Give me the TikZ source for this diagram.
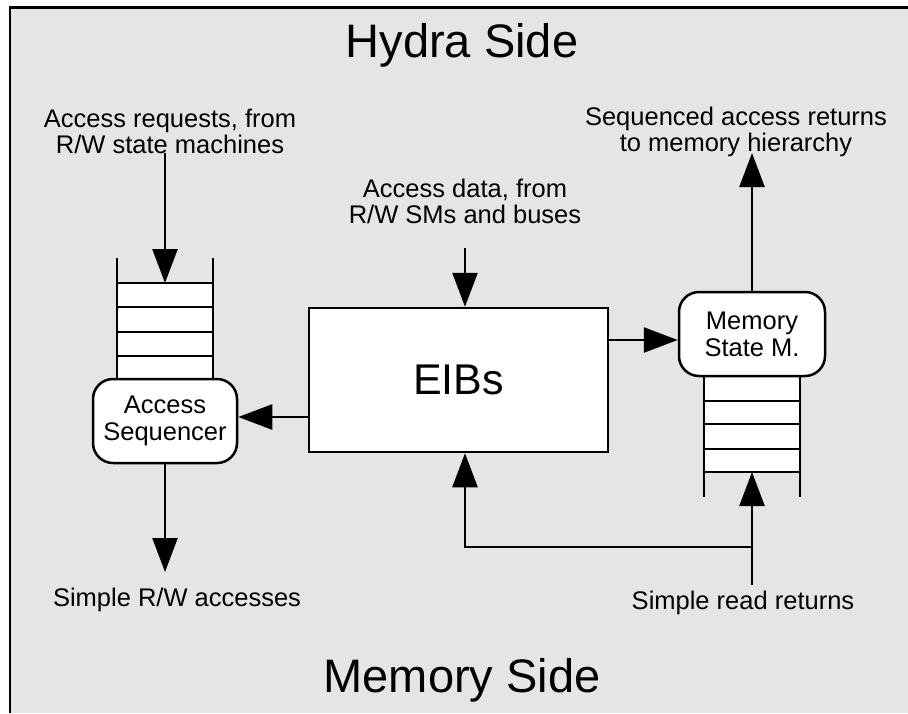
\documentclass[tikz,border=0pt]{standalone}
\usepackage{fontspec}
\setmainfont{Liberation Sans}
\usetikzlibrary{arrows.meta}
\definecolor{bg}{RGB}{229,229,229}
\begin{document}
\begin{tikzpicture}[x=1pt,y=-1pt,
  lbl/.style={align=center,font=\fontsize{25.5}{26}\selectfont,inner sep=0pt},
  big/.style={font=\fontsize{47}{50}\selectfont,inner sep=0pt},
  arr/.style={line width=2.5pt,-{Triangle[length=34pt,width=25pt]}},
  ln/.style={line width=2.5pt},
  rbox/.style={draw,line width=2.5pt,fill=white,rounded corners=20pt,align=center,
    font=\fontsize{25.5}{27}\selectfont,inner sep=0pt},
  sqbox/.style={draw,line width=2.5pt,fill=white,inner sep=0pt}]
\useasboundingbox (0,0) rectangle (908,713);
\fill[white] (0,0) rectangle (908,713);
\fill[bg] (10,7.5) rectangle (908,713);
\draw[ln] (10,713) -- (10,7.5) -- (908,7.5);

% titles
\node[big] (hydra) at (462,45) {Hydra Side};
\node[big] (memside) at (462,680) {Memory Side};

% labels
\node[lbl] (reqtxt) at (170,131) {Access requests, from\\R/W state machines};
\node[lbl] (datatxt) at (465,201) {Access data, from\\R/W SMs and buses};
\node[lbl] (rettxt) at (736,132) {Sequenced access returns\\to memory hierarchy};
\node[lbl] (rwtxt) at (177,600) {Simple R/W accesses};
\node[lbl] (readtxt) at (743,603) {Simple read returns};

% left stack
\fill[white] (117,283) rectangle (213,379);
\draw[ln] (117,258) -- (117,379) (213,258) -- (213,379)
  (117,283) -- (213,283) (117,307) -- (213,307) (117,332) -- (213,332) (117,356) -- (213,356);
% right stack
\fill[white] (704,376) rectangle (800,472);
\draw[ln] (704,376) -- (704,497) (800,376) -- (800,497)
  (704,401) -- (800,401) (704,424) -- (800,424) (704,449) -- (800,449) (704,472) -- (800,472);

% boxes
\node[rbox,minimum width=144pt,minimum height=84pt] (seq) at (165,421) {Access\\Sequencer};
\node[rbox,minimum width=146pt,minimum height=84pt] (msm) at (752,334) {Memory\\State M.};
\node[sqbox,minimum width=299pt,minimum height=144pt,font=\fontsize{43}{45}\selectfont] (eibs) at (458.5,380) {EIBs};

% coordinates
\coordinate (reqend) at (165,153);
\coordinate (s1top) at (165,283);
\coordinate (dataend) at (465,248);
\coordinate (rwend) at (165,572);
\coordinate (retend) at (752,153);
\coordinate (readstart) at (752,585);
\coordinate (s2bot) at (752,472);
\coordinate (branch) at (752,547);

% connectors
\draw[arr] (reqend) -- (s1top);
\draw[arr] (dataend) -- (dataend |- eibs.north);
\draw[arr] (eibs.west |- 0,417) -- (seq.east |- 0,417);
\draw[arr] (eibs.east |- 0,340) -- (msm.west |- 0,340);
\draw[arr] (seq.south) -- (rwend);
\draw[arr] (msm.north) -- (retend);
\draw[arr] (readstart) -- (s2bot);
\draw[arr] (branch) -| (dataend |- eibs.south);
\end{tikzpicture}
\end{document}
